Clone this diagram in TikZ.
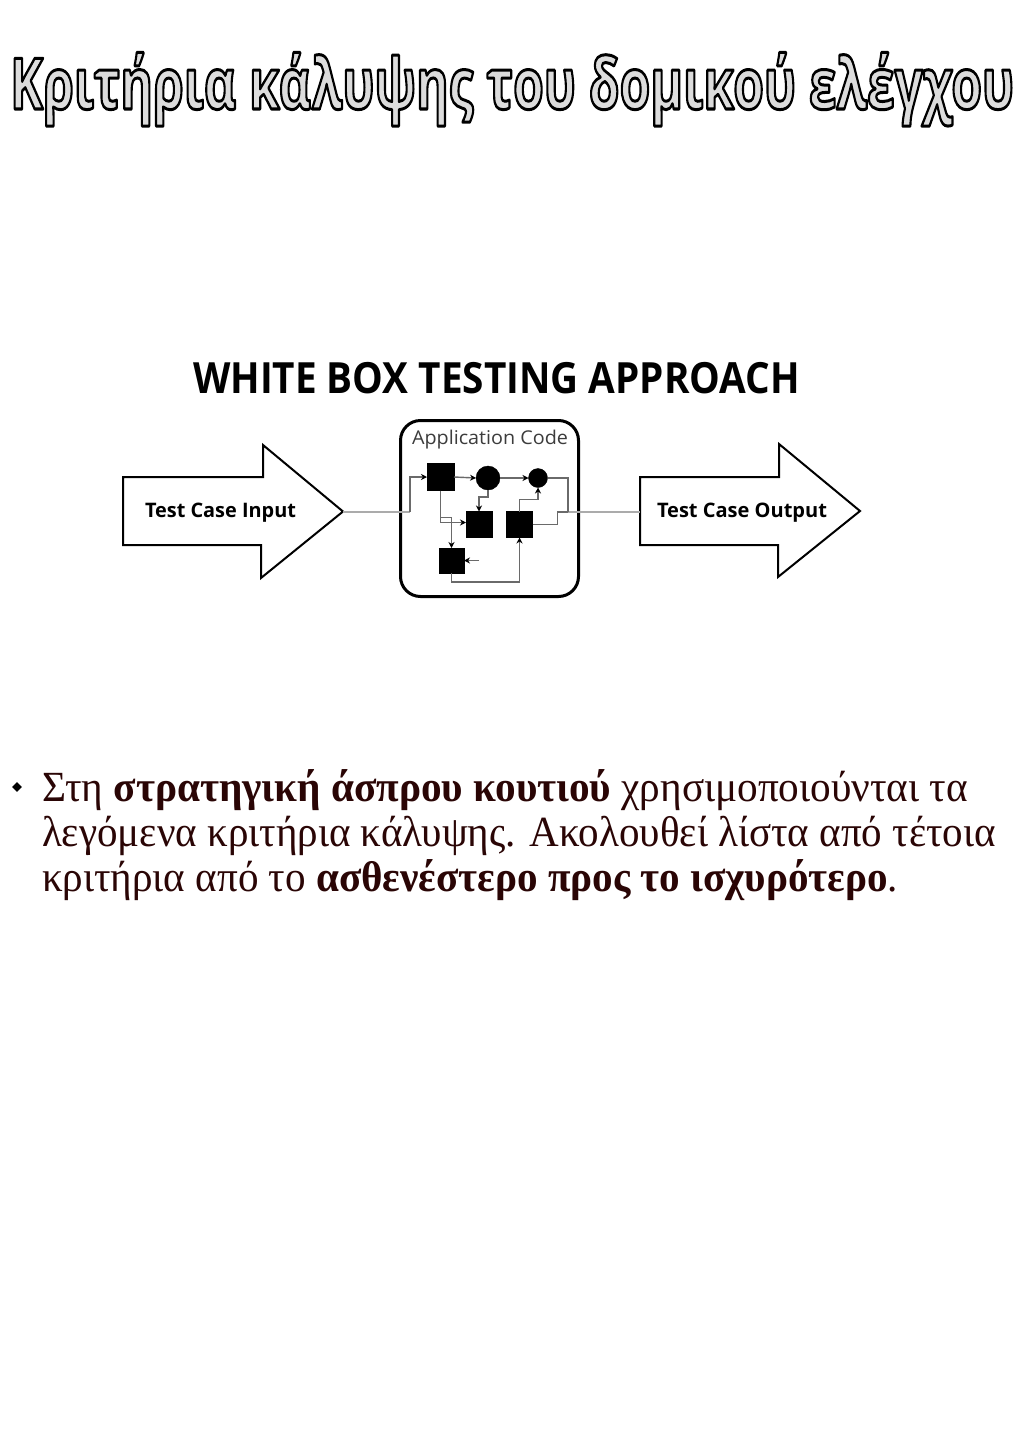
\documentclass[tikz,border=0pt]{standalone}
\usepackage{fontspec}
\usepackage{graphicx}
\usetikzlibrary{arrows.meta,shapes.geometric}

\newfontfamily\titlefont{Open Sans}
\newfontfamily\diagfont{Open Sans}
\newfontfamily\bodyfont{Liberation Serif}

\definecolor{bodyink}{HTML}{2A0505}
\definecolor{titlefill}{HTML}{DCDCDC}
\definecolor{wire}{HTML}{6A6A6A}
\definecolor{feed}{HTML}{ABABAB}
\definecolor{labelgray}{HTML}{3C3C3C}

% scale a line horizontally to a given width, keeping its height
\newcommand{\fitw}[2]{\resizebox{#1}{\height}{#2}}
% hollow lettering: grey fill with a black stroke (PDF text render mode 2)
\newcommand{\hollow}[1]{\textcolor{titlefill}{\special{pdf:literal direct q 2 Tr 3 w 1 j 0 G 0.863 g}#1\special{pdf:literal direct Q}}}

\tikzset{
  blk/.style={fill=black, draw=black, minimum size=27, inner sep=0, outer sep=0},
  dot/.style={circle, fill=black, draw=black, inner sep=0, outer sep=0},
  wirearrow/.style={draw=wire, line width=1.4, -{Stealth[length=6,width=6,color=black]}},
  wireline/.style={draw=wire, line width=1.4},
  feedline/.style={draw=feed, line width=2},
  bigarrow/.style={draw=black, line width=2, fill=white, line join=miter},
  txt/.style={inner sep=0, outer sep=0, anchor=base},
}

\begin{document}
\begin{tikzpicture}[x=1pt, y=-1pt]
\useasboundingbox[fill=white] (0,0) rectangle (1024,1448);

% ---- heading ----
\node[inner sep=0, anchor=base west] (title) at (10,109)
  {\fitw{1004pt}{\fontsize{71}{71}\selectfont\titlefont\bfseries\hollow{Κριτήρια κάλυψης του δομικού ελέγχου}}};

% ---- white box testing figure ----
\node[txt] (approach) at (496.5,393)
  {\fitw{607pt}{\fontsize{43}{43}\selectfont\diagfont\bfseries WHITE BOX TESTING APPROACH}};

% input arrow
\draw[bigarrow] (123,477) -- (263,477) -- (263,445) -- (343,511.5) -- (261,578) -- (261,545) -- (123,545) -- cycle;
\coordinate (inTip) at (343,511.5);
\node[txt] (inLabel) at (220.5,517)
  {\fitw{151pt}{\fontsize{20}{20}\selectfont\diagfont\bfseries Test Case Input}};

% output arrow
\draw[bigarrow] (640,477) -- (779,477) -- (779,444) -- (860,511) -- (778,577) -- (778,545) -- (640,545) -- cycle;
\coordinate (outTail) at (640,512);
\node[txt] (outLabel) at (742,517)
  {\fitw{170pt}{\fontsize{20}{20}\selectfont\diagfont\bfseries Test Case Output}};

% application code box
\node[draw=black, line width=3, rounded corners=20, minimum width=178, minimum height=176, inner sep=0] (app) at (489.5,508.5) {};
\node[txt] (appLabel) at (490,444)
  {\fitw{156pt}{\fontsize{19}{19}\selectfont\diagfont\color{labelgray}Application Code}};

% blocks
\node[blk] (A) at (440.5,477) {};
\node[dot, minimum size=24] (B) at (488,478) {};
\node[dot, minimum size=19] (C) at (538,478) {};
\node[blk, minimum size=26] (D) at (479,524.5) {};
\node[blk, minimum size=26] (E) at (519.5,524.5) {};
\node[blk, minimum size=25] (F) at (451.5,560.5) {};

\coordinate (inJ) at (410,511.5);
\coordinate (outJ) at (568,512);
\coordinate (fIn) at (479,560.5);

% outer feeds
\draw[feedline] (inTip) -- (inJ);
\draw[feedline] (outJ) -- (outTail);

% internal flow
\draw[wirearrow] (inJ) |- (A.west);
\draw[wirearrow] (A.east) -- (B.west);
\draw[wirearrow] (B.east) -- (C.west);
\draw[wireline] (C.east) -| (outJ);
\draw[wireline] (E.east) -- ++(25,0) |- (outJ);
\draw[wirearrow] (B.south) -- ++(0,7) -| (D.north);
\draw[wirearrow] (A.south) |- ([yshift=2]D.west);
\draw[wirearrow] (A.south) -- ++(0,27) -| (F.north);
\draw[wirearrow] (E.north) -- ++(0,-12) -| (C.south);
\draw[wirearrow] (F.south) -- ++(0,9) -| (E.south);
\draw[wirearrow] (fIn) -- (F.east);

% ---- bullet text ----
\node[diamond, fill=black, minimum size=10, inner sep=0] (bullet) at (17,787) {};
\begin{scope}[every node/.style={inner sep=0, outer sep=0, anchor=base west}]
\node (line1) at (42,801) {\fitw{926pt}{\fontsize{43}{43}\selectfont\bodyfont\color{bodyink}Στη \textbf{στρατηγική άσπρου κουτιού} χρησιμοποιούνται τα}};
\node (line2) at (42,846) {\fitw{954pt}{\fontsize{43}{43}\selectfont\bodyfont\color{bodyink}λεγόμενα κριτήρια κάλυψης. Ακολουθεί λίστα από τέτοια}};
\node (line3) at (42,891) {\fitw{856pt}{\fontsize{43}{43}\selectfont\bodyfont\color{bodyink}κριτήρια από το \textbf{ασθενέστερο προς το ισχυρότερο}.}};
\end{scope}
\end{tikzpicture}
\end{document}
